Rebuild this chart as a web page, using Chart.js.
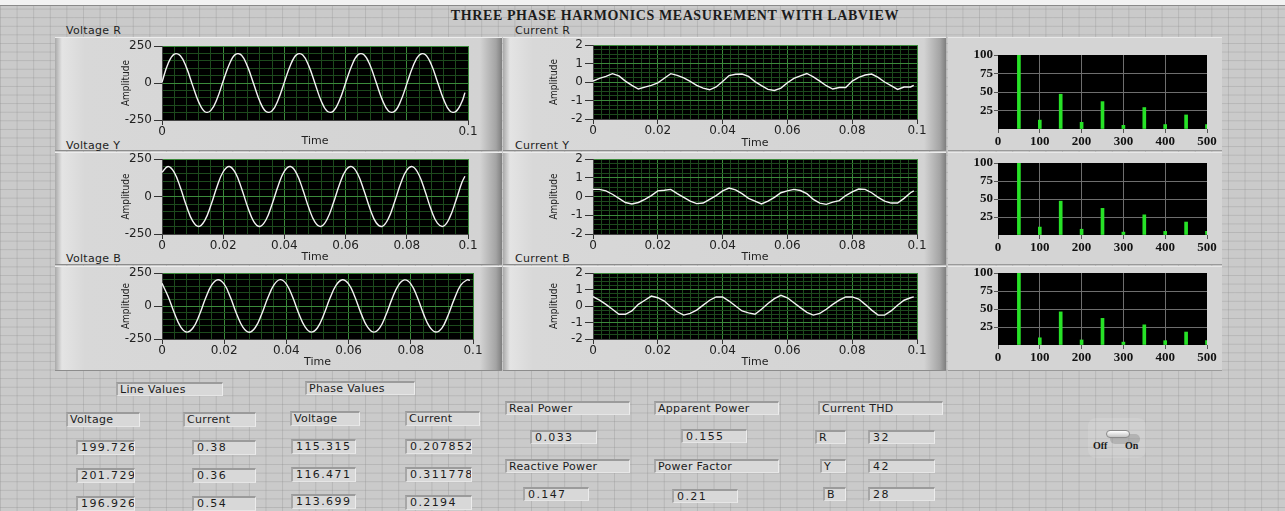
<!DOCTYPE html>
<html>
<head>
<meta charset="utf-8">
<script src="https://cdn.jsdelivr.net/npm/chart.js@4.4.1/dist/chart.umd.min.js"></script>
<style>
html, body { margin: 0; padding: 0; }
body {
	width: 1285px; height: 511px; overflow: hidden; position: relative;
	background-color: #cacaca;
	background-image:
		linear-gradient(to right, rgba(140,140,140,.32) 1px, transparent 1px),
		linear-gradient(to bottom, rgba(140,140,140,.32) 1px, transparent 1px);
	background-size: 16.6px 8.6px;
	font-family: "DejaVu Sans", sans-serif;
}
.topstrip { position: absolute; left: 0; top: 0; width: 1285px; height: 5px; background: #f2f2f2; border-bottom: 1px solid #8a8a8a; }
.title { position: absolute; left: 675px; top: 8px; transform: translateX(-50%); white-space: nowrap;
	font: bold 14px "Liberation Serif", serif; color: #1b1b1b; letter-spacing: 0.6px; }
.frame { position: absolute; box-sizing: border-box; border-top: 1px solid #ededed; border-bottom: 1px solid #8c8c8c;
	background: linear-gradient(to right, #a9a9a9 0, #e4e4e4 7px, #d8d8d8 30px, #d3d3d3 calc(100% - 22px), #a4a4a4 calc(100% - 6px), #7e7e7e 100%); }
.hframe { position: absolute; box-sizing: border-box; background: #d4d4d4; border-top: 1px solid #e8e8e8; border-bottom: 1px solid #9a9a9a; }
.lbl { position: absolute; font-size: 11px; color: #1e1e1e; white-space: nowrap; letter-spacing: 0.3px; }
canvas { position: absolute; }
.box { position: absolute; box-sizing: border-box; background: #d8d8d8;
	border-top: 2px solid #9b9b9b; border-left: 2px solid #a7a7a7; border-right: 1px solid #ececec; border-bottom: 1px solid #e6e6e6;
	font-size: 11px; padding-left: 2px; overflow: hidden; white-space: nowrap; color: #1c1c1c; letter-spacing: 0.3px; }
.box.num { letter-spacing: 1.4px; padding-left: 3px; }
.sw { position: absolute; left: 1106px; top: 430px; width: 24px; height: 8px; border-radius: 5px; box-sizing: border-box;
	border: 1px solid #8a8a8a; background: linear-gradient(#ffffff, #c4c4c4); }
.swsh { position: absolute; left: 1110px; top: 434px; width: 30px; height: 10px; border-radius: 6px; background: rgba(90,90,90,.25); }
.swbg { position: absolute; left: 1088px; top: 418px; width: 58px; height: 40px; border-radius: 8px; background: rgba(255,255,255,.12); }
.swt { position: absolute; font: bold 10px "Liberation Serif", serif; color: #1a1a1a; }
</style>
</head>
<body>
<div class="topstrip"></div>
<div class="title">THREE PHASE HARMONICS MEASUREMENT WITH LABVIEW</div>

<div class="frame" style="left:55px;top:37px;width:447px;height:114px"></div>
<div class="frame" style="left:55px;top:152px;width:447px;height:113px"></div>
<div class="frame" style="left:55px;top:266px;width:447px;height:105px"></div>
<div class="frame" style="left:503px;top:37px;width:443px;height:114px"></div>
<div class="frame" style="left:503px;top:152px;width:443px;height:113px"></div>
<div class="frame" style="left:503px;top:266px;width:443px;height:105px"></div>
<div class="hframe" style="left:948px;top:37px;width:274px;height:114px"></div>
<div class="hframe" style="left:948px;top:152px;width:274px;height:113px"></div>
<div class="hframe" style="left:948px;top:266px;width:274px;height:105px"></div>

<div class="lbl" style="left:66px;top:24px">Voltage R</div>
<div class="lbl" style="left:66px;top:139px">Voltage Y</div>
<div class="lbl" style="left:66px;top:252px">Voltage B</div>
<div class="lbl" style="left:515px;top:24px">Current R</div>
<div class="lbl" style="left:515px;top:139px">Current Y</div>
<div class="lbl" style="left:515px;top:252px">Current B</div>

<div id="readouts"></div>

<div class="swbg"></div>
<div class="swsh"></div>
<div class="sw"></div>
<div class="swt" style="left:1093px;top:440px">Off</div>
<div class="swt" style="left:1125px;top:440px">On</div>

<script>
// sample times (s), shared by all six waveforms
const timeS = [0, 0.002, 0.004, 0.006, 0.008, 0.01, 0.012, 0.014, 0.016, 0.018,
	0.02, 0.022, 0.024, 0.026, 0.028, 0.03, 0.032, 0.034, 0.036, 0.038,
	0.04, 0.042, 0.044, 0.046, 0.048, 0.05, 0.052, 0.054, 0.056, 0.058,
	0.06, 0.062, 0.064, 0.066, 0.068, 0.07, 0.072, 0.074, 0.076, 0.078,
	0.08, 0.082, 0.084, 0.086, 0.088, 0.09, 0.092, 0.094, 0.096, 0.098, 0.099];

const voltR = [5, 132, 195, 184, 104, -16, -129, -194, -185, -107,
	13, 127, 193, 187, 109, -9, -125, -193, -188, -112,
	6, 122, 192, 189, 114, -3, -120, -191, -190, -117,
	0, 117, 190, 191, 120, 3, -114, -189, -192, -122,
	-6, 112, 188, 193, 125, 9, -109, -187, -193, -127, -65];

const voltY = [161, 200, 161, 60, -64, -163, -200, -159, -57, 67,
	165, 200, 157, 54, -70, -167, -200, -155, -50, 74,
	169, 200, 153, 47, -77, -171, -199, -150, -44, 80,
	173, 199, 148, 40, -83, -175, -199, -146, -37, 86,
	176, 198, 143, 33, -90, -178, -198, -141, -30, 93, 135];

const voltB = [172, 70, -55, -158, -198, -165, -68, 58, 160, 199,
	165, 66, -60, -160, -199, -163, -64, 60, 160, 200,
	166, 68, -58, -158, -198, -165, -66, 58, 158, 199,
	167, 70, -56, -157, -198, -166, -68, 56, 157, 198,
	168, 72, -54, -156, -197, -167, -70, 54, 156, 197, 195];

const currR = [0.05, 0.2, 0.3, 0.45, 0.33, 0.05, -0.18, -0.38, -0.28, -0.18,
	-0.05, 0.2, 0.45, 0.36, 0.22, 0.03, -0.18, -0.33, -0.42, -0.27,
	0.03, 0.35, 0.42, 0.43, 0.3, 0.02, -0.2, -0.4, -0.46, -0.33,
	-0.04, 0.2, 0.33, 0.46, 0.28, 0.05, -0.2, -0.38, -0.3, -0.3,
	0.05, 0.25, 0.38, 0.43, 0.25, 0, -0.2, -0.4, -0.27, -0.27, -0.18];

const currY = [0.38, 0.38, 0.3, 0.12, -0.1, -0.32, -0.4, -0.32, -0.15, 0.05,
	0.3, 0.33, 0.38, 0.15, -0.05, -0.25, -0.38, -0.35, -0.15, 0.05,
	0.3, 0.45, 0.35, 0.15, -0.1, -0.25, -0.4, -0.25, -0.05, 0.2,
	0.3, 0.38, 0.32, 0.15, -0.15, -0.35, -0.42, -0.3, -0.22, 0.05,
	0.25, 0.4, 0.38, 0.2, -0.05, -0.25, -0.35, -0.35, -0.1, 0.2, 0.3];

const currB = [0.57, 0.35, 0.1, -0.2, -0.5, -0.5, -0.3, 0.1, 0.35, 0.6,
	0.5, 0.3, -0.05, -0.35, -0.55, -0.45, -0.25, 0.05, 0.35, 0.55,
	0.55, 0.3, 0, -0.3, -0.42, -0.5, -0.2, 0.15, 0.45, 0.65,
	0.5, 0.2, -0.1, -0.38, -0.55, -0.45, -0.2, 0.1, 0.35, 0.55,
	0.55, 0.42, 0.1, -0.25, -0.55, -0.55, -0.3, 0.05, 0.35, 0.5, 0.55];

// harmonic spectra (Hz, % of fundamental)
const harmFreq = [50, 100, 150, 200, 250, 300, 350, 400, 450, 500];
const harmR = [100, 12, 47, 9, 37, 5, 29, 6, 19, 6];
const harmY = [100, 11, 47, 8, 37, 4, 28, 5, 18, 5];
const harmB = [100, 10, 46, 7, 37, 4, 28, 6, 18, 6];

// tick labels
const timeTicksR = ['0', '0.1'];
const timeTicks = ['0', '0.02', '0.04', '0.06', '0.08', '0.1'];
const voltTicks = ['-250', '0', '250'];
const currTicks = ['-2', '-1', '0', '1', '2'];
const harmXTicks = ['0', '100', '200', '300', '400', '500'];
const harmYTicks = ['25', '50', '75', '100'];

// front panel readouts
const lineVoltage = ['199.726', '201.729', '196.926'];
const lineCurrent = ['0.38', '0.36', '0.54'];
const phaseVoltage = ['115.315', '116.471', '113.699'];
const phaseCurrent = ['0.207852', '0.311778', '0.2194'];
const powerValues = ['0.033', '0.155', '0.147', '0.21'];
const thdPhases = ['R', 'Y', 'B'];
const thdValues = ['32', '42', '28'];

const GRID_MAJOR = '#3b8a3b';
const GRID_MINOR = '#1d4a1d';

function steps(min, max, step) {
	const out = [];
	for (let v = min; v <= max + step / 2; v += step) out.push(Math.round(v * 1e6) / 1e6);
	return out;
}
function findLabel(v, labels) {
	const i = labels.findIndex(l => Math.abs(Number(l) - v) < 1e-9);
	return i < 0 ? null : labels[i];
}
function isMult(v, m) {
	return Math.abs(v / m - Math.round(v / m)) < 1e-6;
}

function makeCanvas(c) {
	const cv = document.createElement('canvas');
	cv.width = c[2] - c[0];
	cv.height = c[3] - c[1];
	cv.style.left = c[0] + 'px';
	cv.style.top = c[1] + 'px';
	document.body.appendChild(cv);
	return cv;
}

const plotBg = {
	id: 'plotBg',
	beforeDraw(chart) {
		const a = chart.chartArea, ctx = chart.ctx;
		ctx.save();
		ctx.fillStyle = '#000';
		ctx.fillRect(a.left, a.top, a.right - a.left, a.bottom - a.top);
		ctx.restore();
	}
};

function waveChart(c, p, values, o) {
	const xs = steps(0, 0.1, o.xMinor);
	const ys = steps(o.yMin, o.yMax, o.yMinor);
	new Chart(makeCanvas(c), {
		type: 'line',
		data: {
			datasets: [{
				data: timeS.map((t, i) => ({ x: t, y: values[i] })),
				borderColor: '#f4f4f4',
				borderWidth: 1.4,
				pointRadius: 0,
				tension: o.tension,
				fill: false
			}]
		},
		options: {
			responsive: false,
			animation: false,
			events: [],
			layout: { padding: { top: p[1] - c[1], right: c[2] - p[2], left: 0, bottom: 0 } },
			plugins: { legend: { display: false }, tooltip: { enabled: false } },
			scales: {
				x: {
					type: 'linear', min: 0, max: 0.1,
					afterBuildTicks: s => { s.ticks = xs.map(v => ({ value: v })); },
					afterFit: s => { s.height = c[3] - p[3]; s.paddingLeft = 0; s.paddingRight = 0; },
					ticks: {
						autoSkip: false, maxRotation: 0, padding: 0, color: '#222',
						font: { family: 'DejaVu Sans', size: 12 },
						callback: v => findLabel(v, o.xLabels) || ''
					},
					grid: {
						color: ctx => ctx.tick && isMult(ctx.tick.value, 0.02) ? GRID_MAJOR : GRID_MINOR,
						tickLength: 5,
						tickColor: ctx => ctx.tick && findLabel(ctx.tick.value, o.xLabels) ? '#333' : 'transparent'
					},
					border: { display: true, color: '#444' },
					title: { display: true, text: 'Time', color: '#222', font: { family: 'DejaVu Sans', size: 11 } }
				},
				y: {
					type: 'linear', min: o.yMin, max: o.yMax,
					afterBuildTicks: s => { s.ticks = ys.map(v => ({ value: v })); },
					afterFit: s => { s.width = p[0] - c[0]; s.paddingTop = 0; s.paddingBottom = 0; },
					ticks: {
						autoSkip: false, padding: 2, color: '#222',
						font: { family: 'DejaVu Sans', size: 12 },
						callback: v => findLabel(v, o.yLabels) || ''
					},
					grid: {
						color: ctx => ctx.tick && isMult(ctx.tick.value, o.yMajor) ? GRID_MAJOR : GRID_MINOR,
						tickLength: 8,
						tickColor: ctx => ctx.tick && findLabel(ctx.tick.value, o.yLabels) ? '#333' : 'transparent'
					},
					border: { display: true, color: '#444' },
					title: { display: true, text: 'Amplitude', color: '#222', font: { family: '"DejaVu Sans Condensed", "Liberation Sans", sans-serif', size: 10 } }
				}
			}
		},
		plugins: [plotBg]
	});
}

function harmChart(c, p, values) {
	const xs = steps(0, 500, 100);
	const ys = steps(0, 100, 25);
	new Chart(makeCanvas(c), {
		type: 'bar',
		data: {
			datasets: [{
				data: harmFreq.map((f, i) => ({ x: f, y: values[i] })),
				backgroundColor: '#27e227',
				barThickness: 3
			}]
		},
		options: {
			responsive: false,
			animation: false,
			events: [],
			layout: { padding: { top: p[1] - c[1], right: c[2] - p[2], left: 0, bottom: 0 } },
			plugins: { legend: { display: false }, tooltip: { enabled: false } },
			scales: {
				x: {
					type: 'linear', min: 0, max: 500, offset: false,
					afterBuildTicks: s => { s.ticks = xs.map(v => ({ value: v })); },
					afterFit: s => { s.height = c[3] - p[3]; s.paddingLeft = 0; s.paddingRight = 0; },
					ticks: {
						autoSkip: false, maxRotation: 0, padding: 1, color: '#111',
						font: { family: 'Liberation Serif', size: 13, weight: 'bold' },
						callback: v => findLabel(v, harmXTicks) || ''
					},
					grid: {
						offset: false,
						color: ctx => ctx.tick && ctx.tick.value > 0 && ctx.tick.value < 500 ? '#6e6e6e' : 'transparent',
						tickLength: 4,
						tickColor: '#555'
					},
					border: { display: false }
				},
				y: {
					type: 'linear', min: 0, max: 100,
					afterBuildTicks: s => { s.ticks = ys.map(v => ({ value: v })); },
					afterFit: s => { s.width = p[0] - c[0]; s.paddingTop = 0; s.paddingBottom = 0; },
					ticks: {
						autoSkip: false, padding: 1, color: '#111',
						font: { family: 'Liberation Serif', size: 13, weight: 'bold' },
						callback: v => findLabel(v, harmYTicks) || ''
					},
					grid: {
						color: ctx => ctx.tick && ctx.tick.value > 0 && ctx.tick.value < 100 ? '#6e6e6e' : 'transparent',
						tickLength: 4,
						tickColor: ctx => ctx.tick && ctx.tick.value > 0 ? '#555' : 'transparent'
					},
					border: { display: false }
				}
			}
		},
		plugins: [plotBg]
	});
}

const voltOpts = { tension: 0.4, xMinor: 0.004, yMin: -250, yMax: 250, yMinor: 50, yMajor: 250, yLabels: voltTicks };
const currOpts = { tension: 0, xMinor: 0.0025, yMin: -2, yMax: 2, yMinor: 0.25, yMajor: 1, yLabels: currTicks, xLabels: timeTicks };

waveChart([116, 38, 480, 152], [162, 46, 468, 120], voltR, Object.assign({}, voltOpts, { xLabels: timeTicksR }));
waveChart([116, 151, 480, 268], [162, 159, 468, 234], voltY, Object.assign({}, voltOpts, { xLabels: timeTicks }));
waveChart([116, 265, 484, 373], [162, 273, 473, 339], voltB, Object.assign({}, voltOpts, { xLabels: timeTicks }));

waveChart([544, 37, 930, 154], [593, 45, 917, 119], currR, currOpts);
waveChart([544, 151, 930, 268], [593, 159, 917, 234], currY, currOpts);
waveChart([544, 265, 930, 373], [593, 273, 917, 339], currB, currOpts);

harmChart([960, 48, 1223, 151], [998, 55, 1207, 129], harmR);
harmChart([960, 156, 1223, 258], [998, 163, 1207, 235], harmY);
harmChart([960, 266, 1223, 369], [998, 273, 1207, 345], harmB);

// readout boxes: [text, left, top, width, height, numeric]
const boxes = [
	['Line Values', 116, 382, 107, 14], ['Phase Values', 305, 381, 110, 14],
	['Voltage', 66, 412, 74, 15], ['Current', 183, 412, 73, 15],
	['Voltage', 290, 411, 70, 15], ['Current', 405, 411, 75, 15],
	['Real Power', 505, 401, 125, 14], ['Apparent Power', 654, 401, 125, 14], ['Current THD', 818, 401, 125, 14],
	['Reactive Power', 505, 459, 125, 14], ['Power Factor', 654, 459, 125, 14]
];
const rowTops = [440, 468, 496];
lineVoltage.forEach((v, i) => boxes.push([v, 76, rowTops[i], 59, 15, true]));
lineCurrent.forEach((v, i) => boxes.push([v, 192, rowTops[i], 64, 15, true]));
phaseVoltage.forEach((v, i) => boxes.push([v, 291, rowTops[i] - 1 - (i === 2 ? 1 : 0), 65, 15, true]));
phaseCurrent.forEach((v, i) => boxes.push([v, 405, rowTops[i] - 1, 67, 15, true]));
boxes.push([powerValues[0], 530, 430, 67, 14, true], [powerValues[1], 681, 429, 66, 14, true],
	[powerValues[2], 523, 487, 66, 14, true], [powerValues[3], 672, 489, 66, 14, true]);
const thdLeft = [815, 820, 823];
const thdTops = [430, 459, 487];
thdPhases.forEach((v, i) => boxes.push([v, thdLeft[i], thdTops[i], 846 - thdLeft[i], 14]));
thdValues.forEach((v, i) => boxes.push([v, 868, thdTops[i], 67, 14, true]));

const holder = document.getElementById('readouts');
boxes.forEach(b => {
	const d = document.createElement('div');
	d.className = b[5] ? 'box num' : 'box';
	d.textContent = b[0];
	d.style.left = b[1] + 'px';
	d.style.top = b[2] + 'px';
	d.style.width = b[3] + 'px';
	d.style.height = b[4] + 'px';
	d.style.lineHeight = (b[4] - 3) + 'px';
	holder.appendChild(d);
});
</script>
</body>
</html>
